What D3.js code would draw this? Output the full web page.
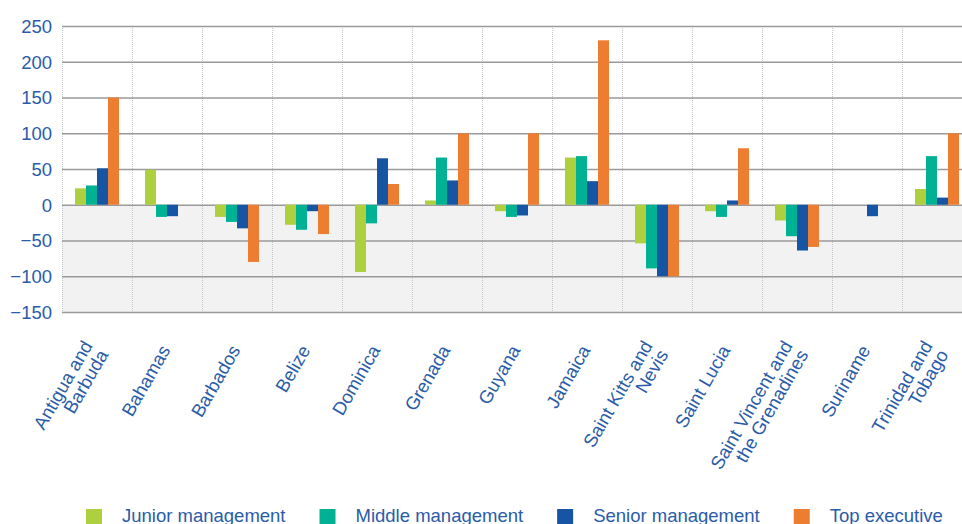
<!DOCTYPE html>
<html>
<head>
<meta charset="utf-8">
<script src="https://cdn.jsdelivr.net/npm/d3@7"></script>
<style>
  body { margin: 0; background: #fff; }
  svg { display: block; font-family: "Liberation Sans", Arial, Helvetica, sans-serif; }
</style>
</head>
<body>
<svg width="962" height="524"></svg>
<script>
const countries = ["Antigua and Barbuda", "Bahamas", "Barbados", "Belize", "Dominica", "Grenada", "Guyana",
    "Jamaica", "Saint Kitts and Nevis", "Saint Lucia", "Saint Vincent and the Grenadines", "Suriname", "Trinidad and Tobago"];
const countryLines = [["Antigua and", "Barbuda"], ["Bahamas"], ["Barbados"], ["Belize"], ["Dominica"], ["Grenada"], ["Guyana"],
    ["Jamaica"], ["Saint Kitts and", "Nevis"], ["Saint Lucia"], ["Saint Vincent and", "the Grenadines"], ["Suriname"], ["Trinidad and", "Tobago"]];
const seriesNames = ["Junior management", "Middle management", "Senior management", "Top executive"];
const junior = [23, 49, -17, -28, -94, 6, -9, 66, -54, -9, -22, 0, 22];
const middle = [27, -17, -24, -35, -26, 66, -17, 68, -89, -17, -44, 0, 68];
const senior = [51, -16, -33, -9, 65, 34, -15, 33, -100, 6, -64, -16, 10];
const topExec = [150, 0, -80, -41, 29, 100, 100, 230, -100, 79, -59, 0, 100];
const yTicks = [-150, -100, -50, 0, 50, 100, 150, 200, 250];
const colors = ["#aecf3e", "#00b194", "#1654a4", "#ed7d31"];
const textColor = "#2a5ca8";

const margin = { top: 26, left: 62 };
const width = 910;
const height = 286;
const allSeries = [junior, middle, senior, topExec];

const svg = d3.select("svg")
    .append("g")
    .attr("transform", `translate(${margin.left},${margin.top})`);

const x = d3.scaleBand().domain(countries).range([0, width]);
const x1 = d3.scaleBand().domain(seriesNames).range([13, 57]);
const y = d3.scaleLinear().domain([-150, 250]).range([height, 0]);

// grey area below zero
svg.append("rect")
    .attr("x", 0).attr("y", y(0))
    .attr("width", width).attr("height", y(-150) - y(0))
    .attr("fill", "#f2f2f2");

// dotted category separators
const seps = countries.map(c => x(c)).concat([width]);
svg.selectAll(".sep")
    .data(seps)
    .enter().append("line")
    .attr("class", "sep")
    .attr("x1", d => d + 0.5).attr("x2", d => d + 0.5)
    .attr("y1", y(250)).attr("y2", y(-150))
    .attr("stroke", "#c8c8c8")
    .attr("stroke-dasharray", "1 1");

// y axis with gridlines
const yAxis = svg.append("g")
    .call(d3.axisLeft(y).tickValues(yTicks).tickSize(-width).tickPadding(10).tickFormat(d3.format("d")));
yAxis.select(".domain").remove();
yAxis.selectAll(".tick line").attr("stroke", "#9a9a9a").attr("stroke-width", 1.3);
yAxis.selectAll(".tick text")
    .attr("fill", textColor)
    .style("font-size", "18.5px")
    .attr("dy", "0.35em");

// bars
const groups = svg.selectAll(".grp")
    .data(countries)
    .enter().append("g")
    .attr("class", "grp")
    .attr("transform", d => `translate(${x(d)},0)`);

groups.selectAll("rect")
    .data((c, i) => seriesNames.map((s, k) => ({ s, k, v: allSeries[k][i] })).filter(d => d.v !== 0))
    .enter().append("rect")
    .attr("x", d => x1(d.s))
    .attr("width", x1.bandwidth())
    .attr("y", d => y(Math.max(0, d.v)))
    .attr("height", d => Math.abs(y(d.v) - y(0)))
    .attr("fill", d => colors[d.k]);

// rotated category labels
const labels = svg.selectAll(".lbl")
    .data(countryLines)
    .enter().append("g")
    .attr("class", "lbl")
    .attr("transform", (d, i) => `translate(${x(countries[i]) + x.bandwidth() / 2 + 4},${height + 38}) rotate(-60)`);

labels.selectAll("text")
    .data(d => d.map((t, j) => ({ t, off: j - (d.length - 1) / 2 })))
    .enter().append("text")
    .attr("text-anchor", "end")
    .attr("y", d => d.off * 18)
    .attr("fill", textColor)
    .style("font-size", "18.5px")
    .text(d => d.t);

// legend
const legend = d3.select("svg").append("g").attr("transform", "translate(86,509)");
let lx = 0;
seriesNames.forEach((name, k) => {
    const item = legend.append("g").attr("transform", `translate(${lx},0)`);
    item.append("rect").attr("width", 16).attr("height", 16).attr("fill", colors[k]);
    const t = item.append("text")
        .attr("x", 36).attr("y", 12.5)
        .attr("fill", textColor)
        .style("font-size", "18.5px")
        .text(name);
    lx += 36 + t.node().getComputedTextLength() + 34;
});
</script>
</body>
</html>
